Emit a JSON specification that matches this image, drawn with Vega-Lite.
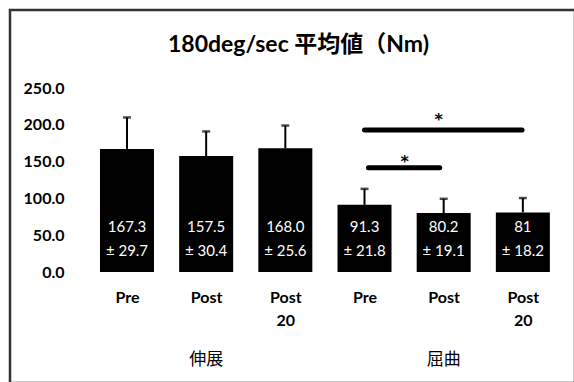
{
  "$schema": "https://vega.github.io/schema/vega-lite/v6.json",
  "autosize": {"type": "none"},
  "padding": {"left": 10, "top": 10, "right": 0, "bottom": 0},
  "width": 565,
  "height": 373,
  "background": "white",
  "title": {
    "text": "180deg/sec 平均値（Nm)",
    "font": "Lato, Noto Sans CJK JP",
    "fontSize": 23,
    "fontWeight": "bold",
    "color": "black",
    "anchor": "middle",
    "frame": "group",
    "baseline": "middle",
    "offset": -58,
    "dx": 6
  },
  "config": {
    "view": {"stroke": "#333333", "strokeWidth": 2.5},
    "font": "Lato"
  },
  "datasets": {
    "bars": [
      {"i": 1, "cond": "Pre", "grp": "伸展", "mean": 167.3, "sd": 29.7, "upper": 210, "label1": "167.3", "label2": "± 29.7"},
      {"i": 2, "cond": "Post", "grp": "伸展", "mean": 157.5, "sd": 30.4, "upper": 191, "label1": "157.5", "label2": "± 30.4"},
      {"i": 3, "cond": "Post 20", "grp": "伸展", "mean": 168.0, "sd": 25.6, "upper": 199, "label1": "168.0", "label2": "± 25.6"},
      {"i": 4, "cond": "Pre", "grp": "屈曲", "mean": 91.3, "sd": 21.8, "upper": 113, "label1": "91.3", "label2": "± 21.8"},
      {"i": 5, "cond": "Post", "grp": "屈曲", "mean": 80.2, "sd": 19.1, "upper": 99.5, "label1": "80.2", "label2": "± 19.1"},
      {"i": 6, "cond": "Post 20", "grp": "屈曲", "mean": 81, "sd": 18.2, "upper": 100.5, "label1": "81", "label2": "± 18.2"}
    ],
    "sig": [
      {"x1": 4.0, "x2": 5.99, "y": 192.9, "sx": 4.937, "sy": 199.3},
      {"x1": 4.05, "x2": 4.95, "y": 141.7, "sx": 4.507, "sy": 143}
    ],
    "groups": [
      {"grp": "伸展", "i": 2},
      {"grp": "屈曲", "i": 5}
    ]
  },
  "layer": [
    {
      "data": {"name": "bars"},
      "mark": {"type": "bar", "width": 54, "color": "black"},
      "encoding": {
        "x": {
          "field": "i", "type": "quantitative",
          "scale": {"domain": [-0.4144, 6.5955], "nice": false, "zero": false},
          "axis": {
            "title": null,
            "values": [1, 2, 3, 4, 5, 6],
            "labelExpr": "datum.value == 1 || datum.value == 4 ? 'Pre' : (datum.value == 2 || datum.value == 5 ? 'Post' : ['Post', '20'])",
            "labelFont": "Lato",
            "labelFontWeight": "bold",
            "labelFontSize": 16,
            "labelColor": "black",
            "labelLineHeight": 23,
            "labelBaseline": "top",
            "labelPadding": 0,
            "labelFlush": false,
            "labelOverlap": false,
            "domain": false,
            "ticks": false,
            "grid": false,
            "offset": -94
          }
        },
        "y": {
          "field": "mean", "type": "quantitative",
          "scale": {"domain": [-150.8, 356], "nice": false, "zero": false},
          "axis": {
            "title": null,
            "values": [0, 50, 100, 150, 200, 250],
            "format": ".1f",
            "labelFont": "Lato",
            "labelFontWeight": "bold",
            "labelFontSize": 16,
            "labelColor": "black",
            "labelPadding": 2,
            "domain": false,
            "ticks": false,
            "grid": false,
            "offset": -56
          }
        }
      }
    },
    {
      "data": {"name": "bars"},
      "mark": {"type": "rule", "color": "black", "strokeWidth": 2},
      "encoding": {
        "x": {"field": "i", "type": "quantitative", "title": null},
        "y": {"field": "mean", "type": "quantitative", "title": null},
        "y2": {"field": "upper"}
      }
    },
    {
      "data": {"name": "bars"},
      "mark": {"type": "tick", "orient": "horizontal", "color": "black", "size": 8, "thickness": 2.5},
      "encoding": {
        "x": {"field": "i", "type": "quantitative", "title": null},
        "y": {"field": "upper", "type": "quantitative", "title": null}
      }
    },
    {
      "data": {"name": "bars"},
      "mark": {"type": "text", "color": "white", "font": "Lato", "fontSize": 15, "baseline": "middle"},
      "encoding": {
        "x": {"field": "i", "type": "quantitative", "title": null},
        "y": {"datum": 61.1},
        "text": {"field": "label1"}
      }
    },
    {
      "data": {"name": "bars"},
      "mark": {"type": "text", "color": "white", "font": "Lato", "fontSize": 15, "baseline": "middle"},
      "encoding": {
        "x": {"field": "i", "type": "quantitative", "title": null},
        "y": {"datum": 28.5},
        "text": {"field": "label2"}
      }
    },
    {
      "data": {"name": "sig"},
      "mark": {"type": "rule", "color": "black", "strokeWidth": 5, "strokeCap": "round"},
      "encoding": {
        "x": {"field": "x1", "type": "quantitative", "title": null},
        "x2": {"field": "x2"},
        "y": {"field": "y", "type": "quantitative", "title": null}
      }
    },
    {
      "data": {"name": "sig"},
      "mark": {"type": "text", "text": "*", "color": "black", "font": "DejaVu Sans", "fontWeight": "bold", "fontSize": 16, "baseline": "alphabetic"},
      "encoding": {
        "x": {"field": "sx", "type": "quantitative", "title": null},
        "y": {"field": "sy", "type": "quantitative", "title": null}
      }
    },
    {
      "data": {"name": "groups"},
      "mark": {"type": "text", "color": "black", "font": "Noto Sans CJK JP", "fontSize": 17, "baseline": "middle"},
      "encoding": {
        "x": {"field": "i", "type": "quantitative", "title": null},
        "y": {"datum": -119.6},
        "text": {"field": "grp"}
      }
    }
  ]
}
